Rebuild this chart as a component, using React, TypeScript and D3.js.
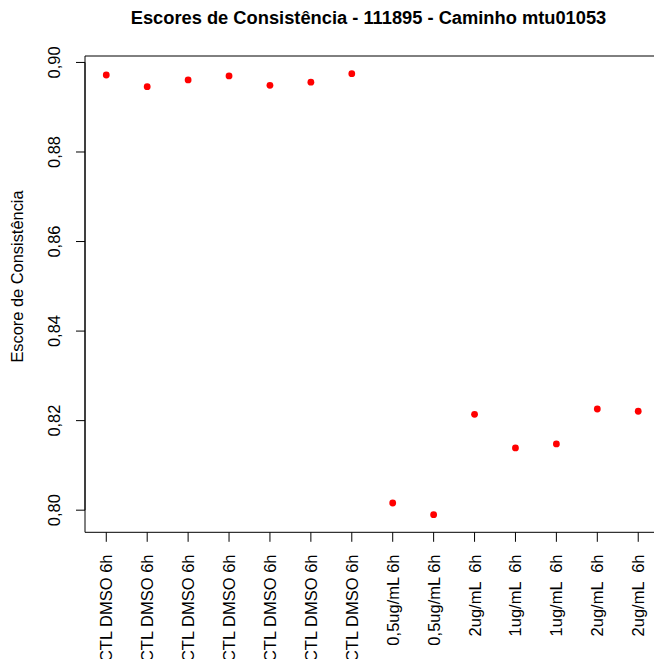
import React from "react";
import * as d3 from "d3";

const categories = [
  "CTL DMSO 6h", "CTL DMSO 6h", "CTL DMSO 6h", "CTL DMSO 6h", "CTL DMSO 6h",
  "CTL DMSO 6h", "CTL DMSO 6h", "0,5ug/mL 6h", "0,5ug/mL 6h", "2ug/mL  6h",
  "1ug/mL  6h", "1ug/mL  6h", "2ug/mL  6h", "2ug/mL  6h",
];
const scores = [
  0.8972, 0.8946, 0.8961, 0.8970, 0.8949, 0.8956, 0.8975,
  0.8016, 0.7990, 0.8214, 0.8139, 0.8148, 0.8226, 0.8221,
];
const yTicks = [0.80, 0.82, 0.84, 0.86, 0.88, 0.90];
const title = "Escores de Consistência - 111895 - Caminho mtu01053";
const yTitle = "Escore de Consistência";

const W = 654, H = 659;
const left = 85, right = 659.5, top = 56, bottom = 532.3;
const font = "'Liberation Sans', Arial, Helvetica, sans-serif";

export default function App() {
  const n = scores.length;
  const xPad = (n - 1) * 0.04;
  const x = d3.scaleLinear().domain([1 - xPad, n + xPad]).range([left, right]);
  const [mn, mx] = d3.extent(scores) as [number, number];
  const yPad = (mx - mn) * 0.04;
  const y = d3.scaleLinear().domain([mn - yPad, mx + yPad]).range([bottom, top]);
  const fmt = (v: number) => v.toFixed(2).replace(".", ",");

  return (
    <svg width={W} height={H} style={{ position: "absolute", left: 0, top: 0, background: "#fff" }} fontFamily={font}>
      <rect x={0} y={0} width={W} height={H} fill="#fff" />
      <text x={368.5} y={23.5} textAnchor="middle" fontWeight="bold" fontSize={18.3}>{title}</text>
      {/* box */}
      <path d={`M${right},${top}H${left}V${bottom}H${right}Z`} fill="none" stroke="#000" strokeWidth={1} />
      {/* y axis */}
      <line x1={left} x2={left} y1={y(yTicks[0])} y2={y(yTicks[yTicks.length - 1])} stroke="#000" />
      {yTicks.map((t) => (
        <g key={t}>
          <line x1={left - 9} x2={left} y1={y(t)} y2={y(t)} stroke="#000" />
          <text transform={`translate(60,${y(t)}) rotate(-90)`} textAnchor="middle" fontSize={16.4}>{fmt(t)}</text>
        </g>
      ))}
      <text transform={`translate(22.5,276.5) rotate(-90)`} textAnchor="middle" fontSize={16.4}>{yTitle}</text>
      {/* x axis */}
      {categories.map((c, i) => (
        <g key={i}>
          <line x1={x(i + 1)} x2={x(i + 1)} y1={bottom} y2={bottom + 9.5} stroke="#000" />
          <text
            transform={`translate(${x(i + 1)},554.5) rotate(-90)`}
            textAnchor="end"
            dy="0.36em"
            fontSize={16.5}
            style={{ whiteSpace: "pre" }}
          >{c}</text>
        </g>
      ))}
      {scores.map((v, i) => (
        <circle key={i} cx={x(i + 1)} cy={y(v)} r={3.4} fill="#ff0000" />
      ))}
    </svg>
  );
}
